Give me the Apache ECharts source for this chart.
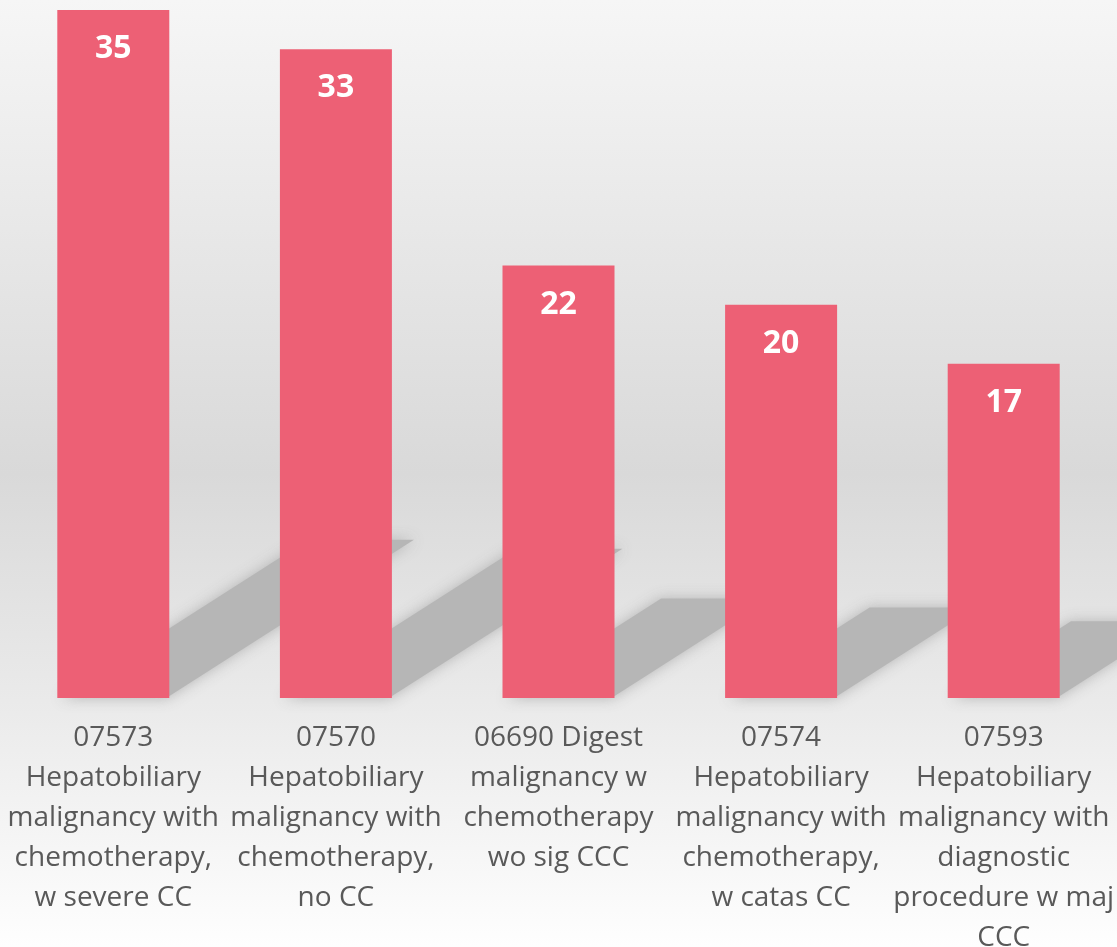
<!DOCTYPE html>
<html>
<head>
<meta charset="utf-8">
<script src="https://cdn.jsdelivr.net/npm/echarts@6/dist/echarts.min.js"></script>
<style>
  html, body { margin: 0; padding: 0; }
  #chart { width: 1117px; height: 947px; }
</style>
</head>
<body>
<div id="chart"></div>
<script>
const categories = [
  '07573\nHepatobiliary\nmalignancy with\nchemotherapy,\nw severe CC',
  '07570\nHepatobiliary\nmalignancy with\nchemotherapy,\nno CC',
  '06690 Digest\nmalignancy w\nchemotherapy\nwo sig CCC',
  '07574\nHepatobiliary\nmalignancy with\nchemotherapy,\nw catas CC',
  '07593\nHepatobiliary\nmalignancy with\ndiagnostic\nprocedure w maj\nCCC'
]
const counts = [35, 33, 22, 20, 17]

const barWidth = 112
const chart = echarts.init(document.getElementById('chart'))

// perspective shadow behind each bar, leaning up and to the right
function renderShadow(params, api) {
  const base = api.coord([api.value(0), 0])
  const top = api.coord([api.value(0), api.value(1)])
  const h = base[1] - top[1]
  const dx = h * 0.36
  const dy = h * 0.23
  const half = barWidth / 2 - 3
  return {
    type: 'polygon',
    shape: {
      points: [
        [base[0] - half, base[1]],
        [base[0] + half, base[1]],
        [base[0] + half + dx, base[1] - dy],
        [base[0] - half + dx, base[1] - dy],
      ],
    },
    style: {
      fill: '#b6b6b6',
      shadowBlur: 14,
      shadowColor: 'rgba(175,175,175,0.9)',
    },
  }
}

const option = {
  backgroundColor: {
    type: 'linear', x: 0, y: 0, x2: 0, y2: 1,
    colorStops: [
      { offset: 0, color: '#f6f6f6' },
      { offset: 0.5, color: '#d9d9d9' },
      { offset: 0.74, color: '#eaeaea' },
      { offset: 1, color: '#fefefe' },
    ],
  },
  textStyle: { fontFamily: 'Open Sans' },
  grid: { left: 2, right: 2, top: 10, bottom: 249, outerBoundsMode: 'none', containLabel: false },
  xAxis: {
    type: 'category',
    data: categories,
    axisLine: { show: false },
    axisTick: { show: false },
    axisLabel: {
      interval: 0,
      margin: 20,
      color: '#595959',
      fontSize: 28,
      lineHeight: 40,
      fontFamily: 'Open Sans',
    },
  },
  yAxis: {
    type: 'value',
    min: 0,
    max: 35,
    show: false,
    splitLine: { show: false },
  },
  series: [
    {
      type: 'custom',
      renderItem: renderShadow,
      data: counts.map((v, i) => [i, v]),
      z: 1,
      silent: true,
    },
    {
      type: 'bar',
      data: counts,
      barWidth: barWidth,
      z: 2,
      itemStyle: { color: '#ed6075' },
      label: {
        show: true,
        position: 'insideTop',
        distance: 23,
        color: '#ffffff',
        fontWeight: 'bold',
        fontSize: 32,
        lineHeight: 32,
        fontFamily: 'Open Sans',
      },
    },
  ],
}

chart.setOption(option)
</script>
</body>
</html>
